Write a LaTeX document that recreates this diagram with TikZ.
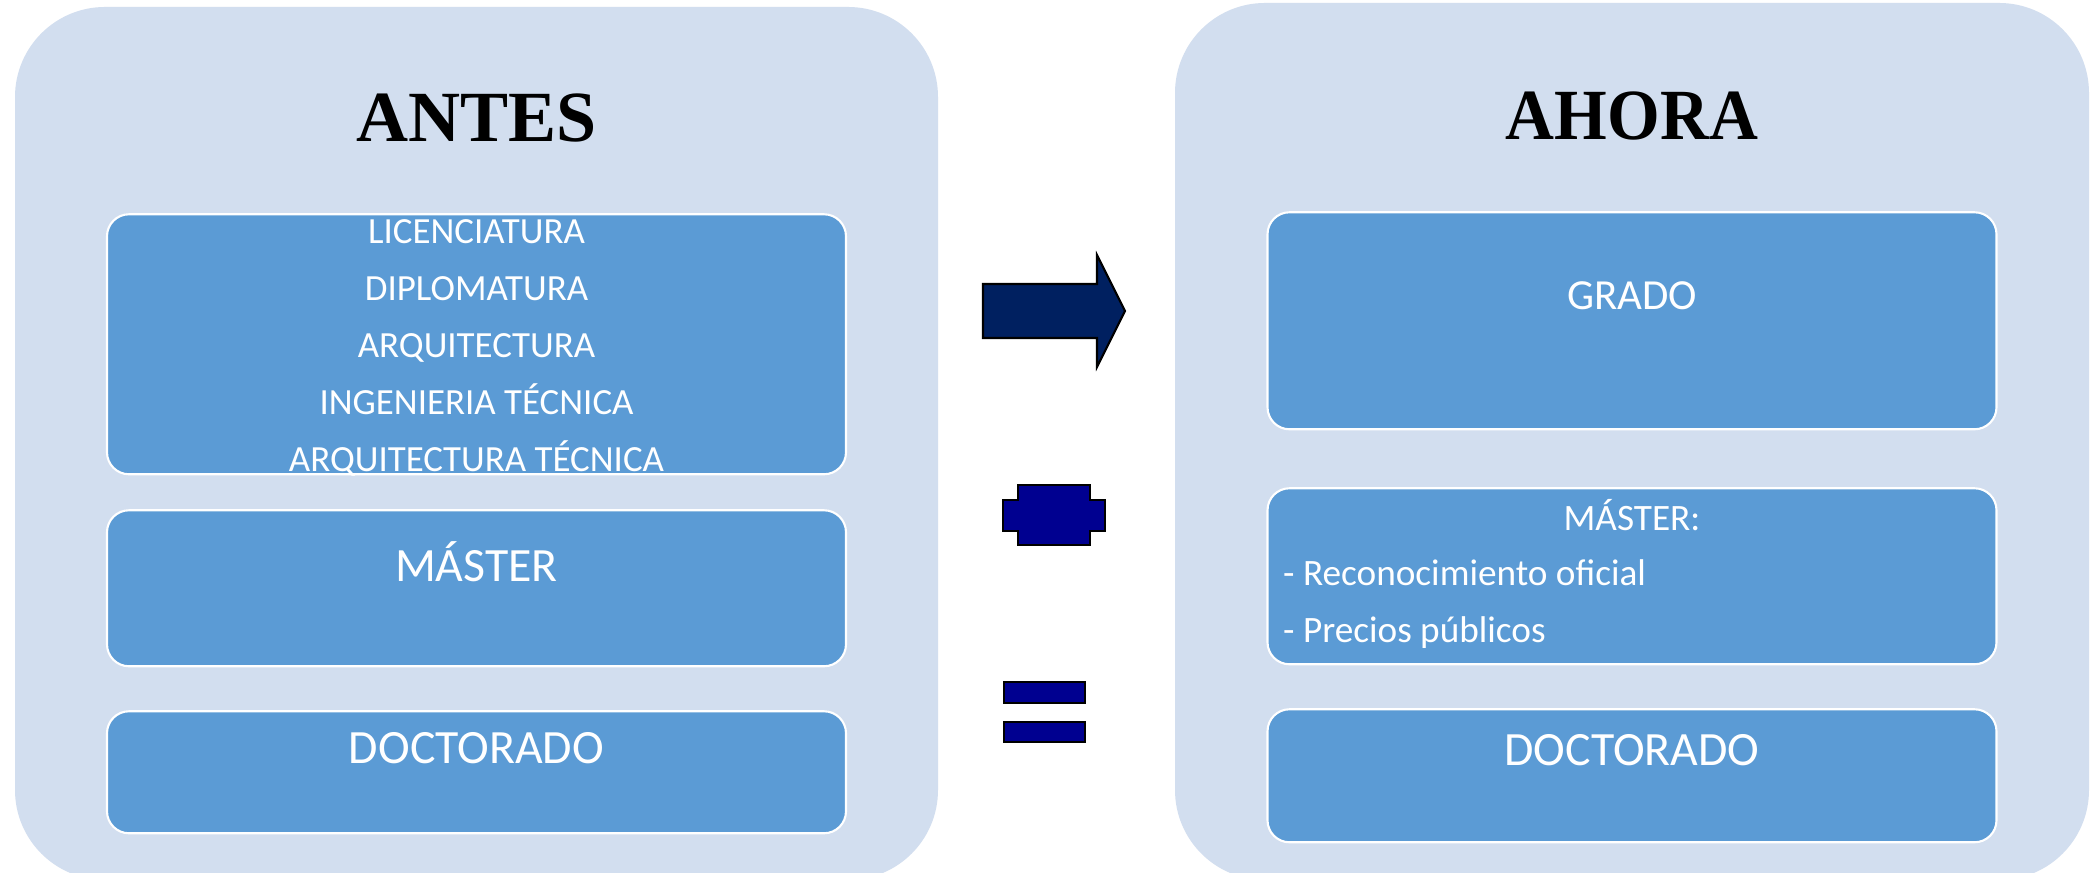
\documentclass[tikz,border=0pt]{standalone}
\usepackage{fontspec}
\setmainfont{Carlito}
\newfontfamily\titlefont{Liberation Serif}
\usetikzlibrary{positioning}

\definecolor{panelbg}{HTML}{D2DEEF}
\definecolor{boxfill}{HTML}{5B9BD5}
\definecolor{arrowfill}{HTML}{002060}
\definecolor{signfill}{HTML}{000090}

\begin{document}
\begin{tikzpicture}[
      panel/.style={fill=panelbg, rounded corners=9mm, inner sep=0pt},
      box/.style={draw=white, line width=0.6pt, fill=boxfill, rounded corners=2.2mm, inner sep=0pt, outer sep=0pt},
      txt/.style={text=white, inner sep=0pt, align=center},
      title/.style={font=\titlefont\bfseries\fontsize{20.5}{24}\selectfont, inner sep=0pt, anchor=base},
      sign/.style={fill=signfill, draw=black, line width=0.6pt}
    ]

    \fill[white] (0,0) rectangle (20.92,8.73);
    \useasboundingbox (0,0) rectangle (20.92,8.73);
    \clip (0,0) rectangle (20.92,8.73);

    % panels
    \node[panel, minimum width=9.23cm, minimum height=8.73cm] (antes) at (4.765,4.295) {};
    \node[panel, minimum width=9.14cm, minimum height=8.77cm] (ahora) at (16.32,4.315) {};

    \node[title] (antesT) at ([yshift=-1.35cm]antes.north) {ANTES};
    \node[title, xscale=0.94] (ahoraT) at ([yshift=-1.37cm]ahora.north) {AHORA};

    % antes
    \node[box, minimum width=7.39cm, minimum height=2.60cm, below=2.08cm of antes.north] (titulos) {};
    \node[box, minimum width=7.39cm, minimum height=1.56cm, below=0.36cm of titulos] (masterA) {};
    \node[box, minimum width=7.39cm, minimum height=1.22cm, below=0.45cm of masterA] (doctoradoA) {};

    \node[txt, anchor=north, font=\fontsize{10.5}{16.2}\selectfont] (titulosT) at ([yshift=-0.05cm]titulos.north)
    {LICENCIATURA\\DIPLOMATURA\\ARQUITECTURA\\INGENIERIA TÉCNICA\\ARQUITECTURA TÉCNICA};
    \node[txt, anchor=base, font=\fontsize{13.6}{16}\selectfont] (masterAT) at ([yshift=-0.71cm]masterA.north) {MÁSTER};
    \node[txt, anchor=base, font=\fontsize{13.6}{16}\selectfont] (doctoradoAT) at ([yshift=-0.52cm]doctoradoA.north) {DOCTORADO};

    % ahora
    \node[box, minimum width=7.29cm, minimum height=2.17cm, below=2.10cm of ahora.north] (grado) {};
    \node[box, minimum width=7.29cm, minimum height=1.76cm, below=0.59cm of grado] (masterB) {};
    \node[box, minimum width=7.29cm, minimum height=1.33cm, below=0.45cm of masterB] (doctoradoB) {};

    \node[txt, anchor=base, font=\fontsize{12.2}{14}\selectfont] (gradoT) at ([yshift=-0.97cm]grado.north) {GRADO};
    \node[txt, anchor=base, font=\fontsize{10.6}{14}\selectfont] (masterBT) at ([yshift=-0.42cm]masterB.north) {MÁSTER:};
    \node[txt, anchor=north west, align=left, font=\fontsize{10.6}{16.2}\selectfont] (masterBL)
      at ([xshift=0.15cm, yshift=-0.71cm]masterB.north west) {- Reconocimiento oficial\\- Precios públicos};
    \node[txt, anchor=base, font=\fontsize{13.6}{16}\selectfont] (doctoradoBT) at ([yshift=-0.56cm]doctoradoB.north) {DOCTORADO};

    % signs
    \filldraw[sign, fill=arrowfill] (9.83,5.89) -- (10.97,5.89) -- (10.97,6.18) -- (11.25,5.62)
      -- (10.97,5.06) -- (10.97,5.35) -- (9.83,5.35) -- cycle;
    \filldraw[sign] (10.18,3.88) -- (10.90,3.88) -- (10.90,3.73) -- (11.05,3.73) -- (11.05,3.42)
      -- (10.90,3.42) -- (10.90,3.28) -- (10.18,3.28) -- (10.18,3.42) -- (10.03,3.42)
      -- (10.03,3.73) -- (10.18,3.73) -- cycle;
    \filldraw[sign] (10.04,1.91) rectangle (10.85,1.70);
    \filldraw[sign] (10.04,1.51) rectangle (10.85,1.31);

    \end{tikzpicture}
\end{document}
